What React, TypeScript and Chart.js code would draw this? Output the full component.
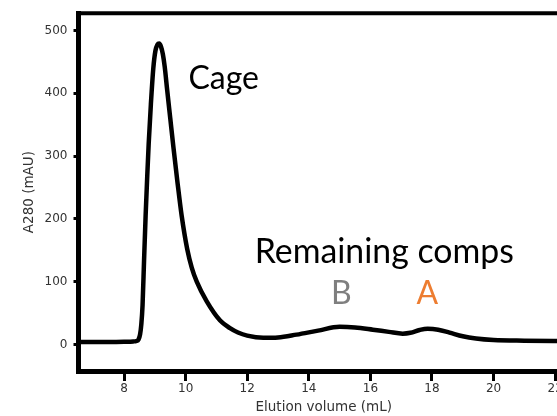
import React, { useEffect, useRef } from "react";
import { Chart, registerables } from "chart.js";

Chart.register(...registerables);

// Elution volume (mL)
const volume = [
  6.52, 7.0, 7.5, 8.0, 8.3, 8.4, 8.47, 8.52, 8.56, 8.6, 8.65, 8.7, 8.75, 8.8,
  8.87, 8.95, 9.02, 9.08, 9.14, 9.2, 9.26, 9.32, 9.4, 9.5, 9.6, 9.73, 9.87, 10.05,
  10.2, 10.36, 10.68, 11.12, 11.44, 11.7, 12.0, 12.52, 13.0, 13.6, 14.3, 15.0,
  15.5, 16.08, 16.6, 17.05, 17.3, 17.6, 17.86, 18.2, 18.57, 19.0, 19.43, 20.0,
  21.0, 22.45,
];
// A280 (mAU)
const absorbance = [
  4, 4, 4, 4.3, 4.8, 5.5, 8, 16, 32, 62, 135, 205, 265, 320,
  382, 440, 468, 477, 479, 474, 462, 442, 405, 360, 315, 260, 205, 152,
  122, 100, 69, 38, 26, 19, 14, 10.5, 11, 15.6, 22, 28,
  27, 23.5, 20, 17.2, 18.5, 23, 25, 23.5, 18.8, 13, 9.4, 7,
  6, 5.5,
];

const xTicks = [8, 10, 12, 14, 16, 18, 20, 22];
const yTicks = [0, 100, 200, 300, 400, 500];

const xRange = [6.52, 22.45];
const yRange = [-42.3, 527.4];

const labelTexts = ["Cage", "Remaining comps", "B", "A"];
const labelX = [10.09, 16.45, 15.06, 17.85];
const labelY = [407, 129, 63.8, 63.8];
const labelColors = ["#000000", "#000000", "#7f7f7f", "#ed7d31"];
const labelAlign: CanvasTextAlign[] = ["left", "center", "center", "center"];
const labelSizes = [32, 33.8, 32, 32];

export default function App() {
  const ref = useRef<HTMLCanvasElement | null>(null);

  useEffect(() => {
    if (!ref.current) return;

    const framePlugin = {
      id: "frame",
      afterDraw(chart: any) {
        const { ctx, chartArea } = chart;
        ctx.save();
        ctx.strokeStyle = "#000";
        ctx.lineWidth = 4;
        ctx.beginPath();
        ctx.moveTo(chartArea.left - 2.5, chartArea.top);
        ctx.lineTo(chart.width, chartArea.top);
        ctx.stroke();
        ctx.lineWidth = 5;
        ctx.beginPath();
        ctx.moveTo(chartArea.right, chartArea.top);
        ctx.lineTo(chartArea.right, chartArea.bottom);
        ctx.stroke();
        ctx.restore();
      },
    };

    const labelPlugin = {
      id: "labels",
      afterDatasetsDraw(chart: any) {
        const { ctx, scales } = chart;
        ctx.save();
        ctx.textBaseline = "alphabetic";
        labelTexts.forEach((t, i) => {
          ctx.font = `${labelSizes[i]}px Lato`;
          ctx.fillStyle = labelColors[i];
          ctx.textAlign = labelAlign[i];
          ctx.fillText(t, scales.x.getPixelForValue(labelX[i]), scales.y.getPixelForValue(labelY[i]));
        });
        ctx.restore();
      },
    };

    const chart = new Chart(ref.current, {
      type: "line",
      data: {
        datasets: [
          {
            data: volume.map((v, i) => ({ x: v, y: absorbance[i] })),
            borderColor: "#000",
            borderWidth: 4.5,
            pointRadius: 0,
            fill: false,
            cubicInterpolationMode: "monotone",
          },
        ],
      },
      options: {
        animation: false,
        responsive: false,
        devicePixelRatio: 1,
        layout: { padding: { left: 0, top: 7.5, right: 11, bottom: 0 } },
        plugins: { legend: { display: false }, tooltip: { enabled: false } },
        scales: {
          x: {
            type: "linear",
            min: xRange[0],
            max: xRange[1],
            afterFit(scale: any) {
              scale.height = 45;
            },
            afterBuildTicks(scale: any) {
              scale.ticks = xTicks.map((v) => ({ value: v }));
            },
            ticks: {
              includeBounds: false,
              color: "#333",
              padding: 1,
              maxRotation: 0,
              autoSkip: false,
              font: { family: "DejaVu Sans", size: 12 },
            },
            grid: {
              drawOnChartArea: false,
              drawTicks: true,
              tickLength: 10,
              tickWidth: 3,
              tickColor: "#000",
            },
            border: { display: true, color: "#000", width: 5 },
            title: {
              display: true,
              text: "Elution volume (mL)",
              color: "#333",
              font: { family: "DejaVu Sans", size: 13.5 },
              padding: { top: 0, bottom: 0 },
            },
          },
          y: {
            type: "linear",
            min: yRange[0],
            max: yRange[1],
            afterFit(scale: any) {
              scale.width = 78.5;
            },
            afterBuildTicks(scale: any) {
              scale.ticks = yTicks.map((v) => ({ value: v }));
            },
            ticks: {
              includeBounds: false,
              color: "#333",
              padding: 6,
              autoSkip: false,
              font: { family: "DejaVu Sans", size: 12 },
            },
            grid: {
              drawOnChartArea: false,
              drawTicks: true,
              tickLength: 5,
              tickWidth: 3,
              tickColor: "#000",
            },
            border: { display: true, color: "#000", width: 5 },
            title: {
              display: true,
              text: "A280 (mAU)",
              color: "#333",
              font: { family: "DejaVu Sans", size: 13.5 },
              padding: { top: 21, bottom: 0 },
            },
          },
        },
      },
      plugins: [framePlugin, labelPlugin],
    });

    return () => chart.destroy();
  }, []);

  return (
    <div
      style={{
        position: "fixed",
        left: 0,
        top: 0,
        width: 557,
        height: 416,
        overflow: "hidden",
        background: "#fff",
      }}
    >
      <canvas ref={ref} width={580} height={416} style={{ display: "block" }} />
    </div>
  );
}
